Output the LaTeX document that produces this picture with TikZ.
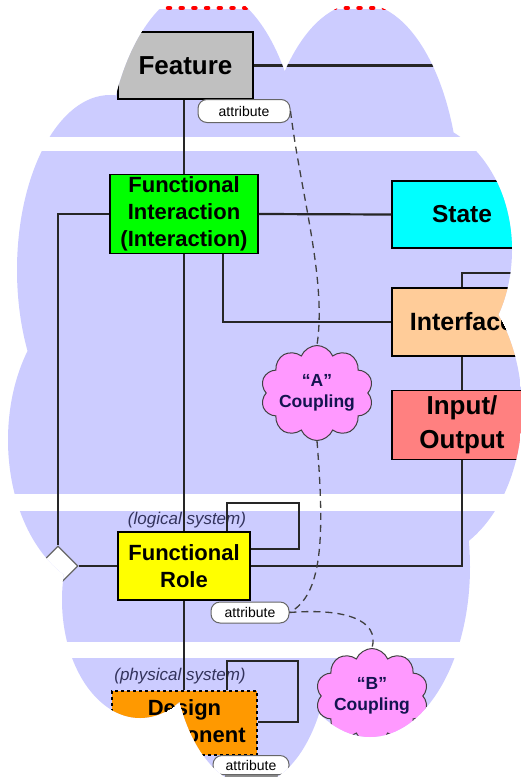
\documentclass[tikz,border=0pt]{standalone}
\usepackage{fontspec}
\setmainfont{Liberation Sans}
\usetikzlibrary{shapes.geometric,shapes.symbols}
\definecolor{bandblue}{HTML}{CCCCFF}
\definecolor{featgray}{HTML}{C0C0C0}
\definecolor{fintgreen}{HTML}{00FF00}
\definecolor{statecyan}{HTML}{00FFFF}
\definecolor{ifacepeach}{HTML}{FFCC99}
\definecolor{iosalmon}{HTML}{FF8080}
\definecolor{roleyellow}{HTML}{FFFF00}
\definecolor{dcorange}{HTML}{FF9900}
\definecolor{couplepink}{HTML}{FF99FF}
\definecolor{coupletext}{HTML}{141450}
\definecolor{systext}{HTML}{33335C}
\tikzset{
  elem/.style={draw=black, line width=1.5pt, inner sep=0pt, align=center},
  attr/.style={draw=black!60, fill=white, rounded corners=9pt, line width=1pt,
    inner sep=0pt, font=\fontsize{14}{16}\selectfont},
  coupling/.style={cloud, cloud puffs=10, cloud puff arc=135, cloud ignores aspect,
    draw=black!75, fill=couplepink, line width=1pt, inner sep=0pt, align=center,
    font=\fontsize{17.5}{21}\selectfont\bfseries, text=coupletext},
  agg/.style={diamond, draw=black!60, fill=white, line width=1.2pt,
    minimum width=40pt, minimum height=40pt, inner sep=0pt},
  syslabel/.style={font=\fontsize{17}{20}\selectfont\itshape, text=systext, inner sep=0pt},
  link/.style={line width=2.2pt, black!85},
  dashlink/.style={dash pattern=on 7pt off 5pt, line width=1.3pt, black!75}
}
\begin{document}
\begin{tikzpicture}[x=1pt,y=-1pt]
  \useasboundingbox (0,0) rectangle (521,777);
  % cloud shaped cut-out
  \clip (204,186) ellipse [x radius=99pt, y radius=198pt]
        (360,203) ellipse [x radius=100pt, y radius=200pt]
        (110,270) ellipse [x radius=93pt, y radius=175pt]
        (108,440) ellipse [x radius=100pt, y radius=150pt]
        (140,600) ellipse [x radius=78pt, y radius=118pt]
        (251,640) ellipse [x radius=79pt, y radius=145pt]
        (370,567) ellipse [x radius=100pt, y radius=170pt]
        (410,250) ellipse [x radius=102pt, y radius=130pt]
        (418,410) ellipse [x radius=104pt, y radius=150pt]
        (260,400) ellipse [x radius=140pt, y radius=190pt];
  % bands
  \fill[bandblue] (0,9) rectangle (521,137);
  \fill[bandblue] (0,151) rectangle (521,494);
  \fill[bandblue] (0,511) rectangle (521,642);
  \fill[bandblue] (0,658) rectangle (521,790);
  \draw[red, line width=4.5pt, line cap=round, dash pattern=on 2pt off 10.7pt,
    dash phase=9.8pt] (0,8) -- (521,8);
  \fill[black!45] (225,773) rectangle (278,790);

  \node[elem, fill=featgray, minimum width=135pt, minimum height=67pt,
    font=\fontsize{26}{30}\selectfont\bfseries] (feature) at (185.5,65.5) {Feature};
  \node[elem, fill=fintgreen, minimum width=148pt, minimum height=79pt,
    font=\fontsize{22}{27}\selectfont\bfseries] (fint) at (184,214)
    {Functional\\Interaction\\(Interaction)};
  \node[elem, fill=statecyan, minimum width=140pt, minimum height=67pt,
    font=\fontsize{24.5}{28}\selectfont\bfseries] (state) at (462,214.5) {State};
  \node[elem, fill=ifacepeach, minimum width=140pt, minimum height=68pt,
    font=\fontsize{25}{28}\selectfont\bfseries] (iface) at (462,322) {Interface};
  \node[elem, fill=iosalmon, minimum width=140pt, minimum height=69pt,
    font=\fontsize{26}{34}\selectfont\bfseries] (inout) at (462,425) {Input/\\Output};
  \node[elem, fill=roleyellow, minimum width=132pt, minimum height=68pt,
    font=\fontsize{22}{27}\selectfont\bfseries] (frole) at (184,566) {Functional\\Role};
  \node[elem, dash pattern=on 3pt off 3pt, fill=dcorange, minimum width=145pt,
    minimum height=64pt, font=\fontsize{22}{27}\selectfont\bfseries] (dcomp)
    at (184.5,723) {Design\\Component};
  \node[syslabel] (logsys) at (187,520) {(logical system)};
  \node[syslabel] (physsys) at (180,676) {(physical system)};
  \node[attr, minimum width=92pt, minimum height=23pt] (attr1) at (244,111) {attribute};
  \node[attr, minimum width=78pt, minimum height=21pt] (attr2) at (250,612.5) {attribute};
  \node[attr, minimum width=76pt, minimum height=19pt] (attr3) at (251,765) {attribute};
  \node[coupling, minimum width=110pt, minimum height=95pt] (cplA) at (317,393)
    {“A”\\Coupling};
  \node[coupling, minimum width=102pt, minimum height=95pt] (cplB) at (372,696)
    {“B”\\Coupling};
  \node[agg] (agg) at (58,566) {};
  \coordinate (featout) at (521,65.5);
  \coordinate (ifaceout) at (521,273);
  \coordinate (frloop) at (299,503);
  \coordinate (dcloop) at (298,661);

  \begin{scope}[link]
    \draw (feature.east) to (featout);
    \draw (fint.north |- feature.south) to (fint.north);
    \draw (fint.east) to (state.west);
    \draw (fint.west) -| (agg.north);
    \draw (agg.east) to (frole.west);
    \draw ([xshift=39pt]fint.south) |- (iface.west);
    \draw (iface.north) |- (ifaceout);
    \draw (iface.south) to (inout.north);
    \draw (inout.south) |- (frole.east);
    \draw (fint.south) to (frole.north);
    \draw (frole.south) to (frole.south |- dcomp.north);
    \draw ([xshift=43pt]frole.north) |- (frloop) |- ([yshift=17pt]frole.east);
    \draw ([xshift=42.5pt]dcomp.north) |- (dcloop) |- ([yshift=1pt]dcomp.east);
  \end{scope}
  \begin{scope}[dashlink]
    \draw (attr1.east) .. controls (300,190) and (327,280) .. (cplA.north);
    \draw (cplA.south) .. controls (325,540) and (322,595) .. (attr2.east);
    \draw (attr2.east) .. controls (345,608) and (380,620) .. (cplB.north);
  \end{scope}
\end{tikzpicture}
\end{document}
